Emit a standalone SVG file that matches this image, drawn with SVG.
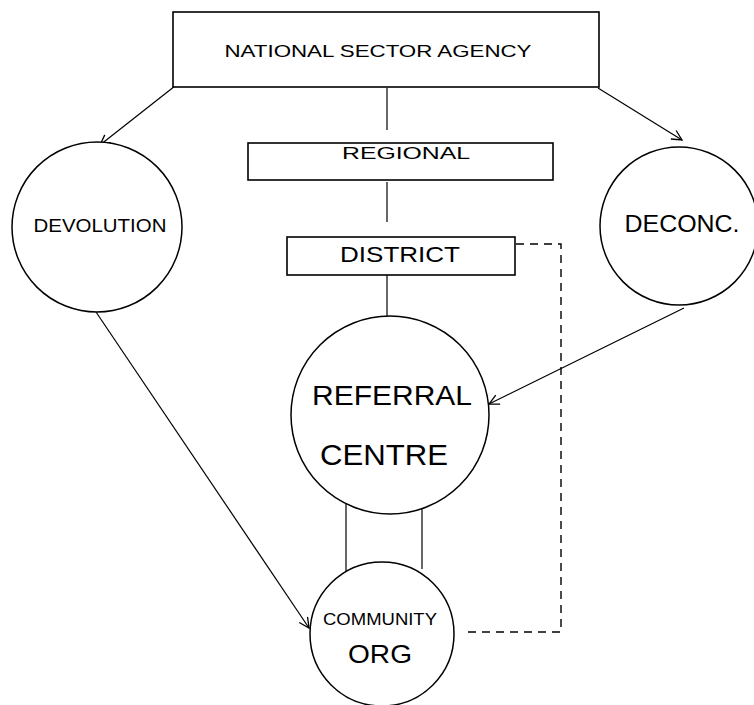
<svg xmlns="http://www.w3.org/2000/svg" width="754" height="705" viewBox="0 0 754 705">
<style>
.box{fill:#fff;stroke:#000;stroke-width:1.6}
.circ{fill:#fff;stroke:#000;stroke-width:1.5}
.ln{fill:none;stroke:#000;stroke-width:1.2}
.dash{fill:none;stroke:#000;stroke-width:1.4;stroke-dasharray:8 6}
text{font-family:"Liberation Sans",Arial,sans-serif;fill:#000;text-anchor:middle}
</style>
<defs>
<marker id="arr" viewBox="0 0 12 12" refX="11" refY="6" markerWidth="12" markerHeight="12" markerUnits="userSpaceOnUse" orient="auto">
<path d="M1,1 L11,6 L1,11" fill="none" stroke="#000" stroke-width="1.3"/>
</marker>
</defs>
<rect width="754" height="705" fill="#fff"/>
<g id="connectors">
<line class="ln" x1="387" y1="88" x2="387" y2="130"/>
<line class="ln" x1="387" y1="182" x2="387" y2="222"/>
<line class="ln" x1="387" y1="275" x2="387" y2="316"/>
<line class="ln" x1="175" y1="86" x2="100" y2="145" marker-end="url(#arr)"/>
<line class="ln" x1="598" y1="88" x2="682" y2="140" marker-end="url(#arr)"/>
<line class="ln" x1="684" y1="308" x2="489" y2="404" marker-end="url(#arr)"/>
<line class="ln" x1="96" y1="312" x2="309" y2="628" marker-end="url(#arr)"/>
<line class="ln" x1="346" y1="503" x2="346" y2="573"/>
<line class="ln" x1="422" y1="503" x2="422" y2="569"/>
<path class="dash" d="M516,244 H561 V632 H467"/>
</g>
<g id="national">
<rect class="box" x="173" y="12" width="426" height="75"/>
<text x="378" y="57" font-size="17" textLength="307" lengthAdjust="spacingAndGlyphs">NATIONAL SECTOR AGENCY</text>
</g>
<g id="regional">
<rect class="box" x="248" y="143" width="305" height="37"/>
<text x="406" y="159" font-size="17" textLength="128" lengthAdjust="spacingAndGlyphs">REGIONAL</text>
</g>
<g id="district">
<rect class="box" x="287" y="237" width="228" height="38"/>
<text x="400" y="262" font-size="22" textLength="120" lengthAdjust="spacingAndGlyphs">DISTRICT</text>
</g>
<g id="devolution">
<circle class="circ" cx="97" cy="227" r="85"/>
<text x="100" y="232" font-size="19" textLength="133" lengthAdjust="spacingAndGlyphs">DEVOLUTION</text>
</g>
<g id="deconc">
<circle class="circ" cx="679" cy="226" r="79"/>
<text x="682" y="232" font-size="23" textLength="115" lengthAdjust="spacingAndGlyphs">DECONC.</text>
</g>
<g id="referral">
<circle class="circ" cx="390" cy="415" r="99"/>
<text x="392" y="405" font-size="27" textLength="160" lengthAdjust="spacingAndGlyphs">REFERRAL</text>
<text x="384" y="465" font-size="29" textLength="128" lengthAdjust="spacingAndGlyphs">CENTRE</text>
</g>
<g id="community">
<circle class="circ" cx="382" cy="634" r="72"/>
<text x="380" y="625" font-size="16" textLength="114" lengthAdjust="spacingAndGlyphs">COMMUNITY</text>
<text x="380" y="663" font-size="26" textLength="64" lengthAdjust="spacingAndGlyphs">ORG</text>
</g>
</svg>
